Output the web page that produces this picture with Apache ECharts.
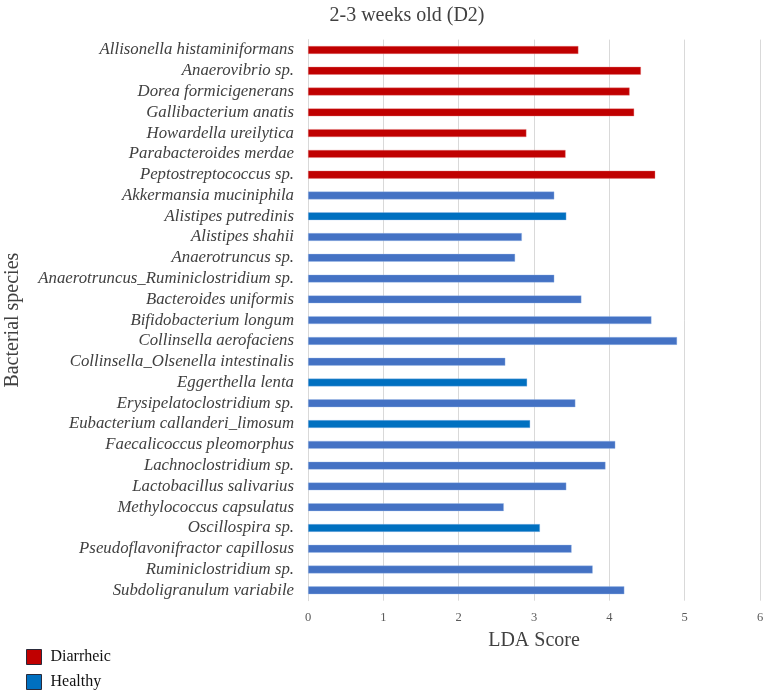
<!DOCTYPE html>
<html>
<head>
<meta charset="utf-8">
<script src="https://cdn.jsdelivr.net/npm/echarts@6/dist/echarts.min.js"></script>
<style>
html,body{margin:0;padding:0;background:#fff;}
#chart{width:767px;height:697px;}
</style>
</head>
<body>
<div id="chart"></div>
<script>
const species = [
  'Allisonella histaminiformans','Anaerovibrio sp.','Dorea formicigenerans','Gallibacterium anatis',
  'Howardella ureilytica','Parabacteroides merdae','Peptostreptococcus sp.','Akkermansia muciniphila',
  'Alistipes putredinis','Alistipes shahii','Anaerotruncus sp.','Anaerotruncus_Ruminiclostridium sp.',
  'Bacteroides uniformis','Bifidobacterium longum','Collinsella aerofaciens','Collinsella_Olsenella intestinalis',
  'Eggerthella lenta','Erysipelatoclostridium sp.','Eubacterium callanderi_limosum','Faecalicoccus pleomorphus',
  'Lachnoclostridium sp.','Lactobacillus salivarius','Methylococcus capsulatus','Oscillospira sp.',
  'Pseudoflavonifractor capillosus','Ruminiclostridium sp.','Subdoligranulum variabile'
];
const ldaScore = [
  3.59, 4.42, 4.27, 4.33, 2.90, 3.42, 4.61, 3.27,
  3.43, 2.84, 2.75, 3.27, 3.63, 4.56, 4.90, 2.62,
  2.91, 3.55, 2.95, 4.08, 3.95, 3.43, 2.60, 3.08,
  3.50, 3.78, 4.20
];
const group = [
  'Diarrheic','Diarrheic','Diarrheic','Diarrheic','Diarrheic','Diarrheic','Diarrheic','Healthy',
  'Healthy','Healthy','Healthy','Healthy','Healthy','Healthy','Healthy','Healthy',
  'Healthy','Healthy','Healthy','Healthy','Healthy','Healthy','Healthy','Healthy',
  'Healthy','Healthy','Healthy'
];
const groups = ['Diarrheic','Healthy'];
const xTicks = [0,1,2,3,4,5,6];

// styling (not data)
const darkerHealthy = new Set(['Alistipes putredinis','Eggerthella lenta','Eubacterium callanderi_limosum','Oscillospira sp.']);
const serif = "'Liberation Serif','DejaVu Serif',serif";

const chart = echarts.init(document.getElementById('chart'));
const seriesList = groups.map(g => ({
  name: g,
  type: 'bar',
  stack: 'all',
  barWidth: 8,
  data: ldaScore.map((v, i) => group[i] === g ? v : null),
  itemStyle: {
    color: g === 'Diarrheic' ? '#C00000' : (p => darkerHealthy.has(p.name) ? '#0070C0' : '#4472C4'),
    borderColor: g === 'Diarrheic' ? 'rgba(230,120,120,0.6)' : 'rgba(160,190,235,0.6)',
    borderWidth: 0.6
  }
}));

chart.setOption({
  backgroundColor: '#fff',
  animation: false,
  title: {
    text: '2-3 weeks old (D2)',
    left: 402, top: 1, textAlign: 'center',
    textStyle: {fontFamily: serif, fontSize: 20, fontWeight: 'normal', color: '#404040'}
  },
  legend: {
    orient: 'vertical', left: 26, top: 649, padding: 0,
    itemWidth: 15, itemHeight: 15, itemGap: 9,
    icon: 'rect',
    data: [
      {name: 'Diarrheic', itemStyle: {color: '#C00000', borderColor: '#2a2a3a', borderWidth: 1}},
      {name: 'Healthy', itemStyle: {color: '#0070C0', borderColor: '#2a2a3a', borderWidth: 1}}
    ],
    textStyle: {fontFamily: serif, fontSize: 16, color: '#111', padding: [0, 0, 0, 4]}
  },
  grid: {left: 308, right: 7, top: 39.6, bottom: 96.3, containLabel: false, outerBoundsMode: 'none'},
  xAxis: {
    type: 'value', min: xTicks[0], max: xTicks[xTicks.length - 1], interval: 1,
    name: 'LDA Score', nameLocation: 'middle', nameGap: 30,
    nameTextStyle: {fontFamily: serif, fontSize: 20, color: '#404040'},
    axisLine: {show: false}, axisTick: {show: false},
    axisLabel: {fontFamily: serif, fontSize: 12.5, color: '#595959', margin: 11},
    splitLine: {show: true, lineStyle: {color: '#d9d9d9', width: 1}}
  },
  yAxis: {
    type: 'category', data: species, inverse: true,
    name: 'Bacterial species', nameLocation: 'middle', nameGap: 285, nameRotate: 90,
    nameTextStyle: {fontFamily: serif, fontSize: 20, color: '#404040'},
    axisLine: {show: true, lineStyle: {color: '#d9d9d9'}}, axisTick: {show: false},
    axisLabel: {interval: 0, fontFamily: serif, fontStyle: 'italic', fontSize: 16.8, color: '#404040', margin: 14},
    splitLine: {show: false}
  },
  series: seriesList
});
</script>
</body>
</html>
